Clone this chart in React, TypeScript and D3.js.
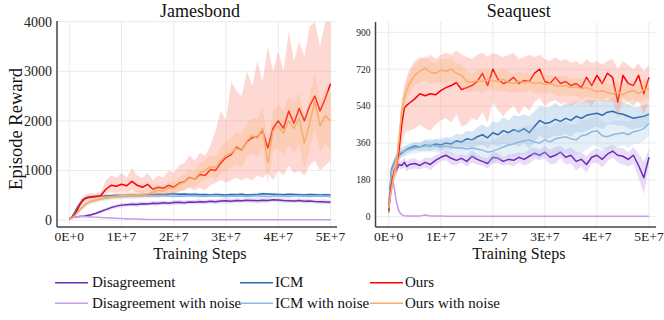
import React from 'react';
import * as d3 from 'd3';

// Training steps in units of 1E6
const STEPS = [0, 0.5, 1, 1.5, 2, 2.5, 3, 3.5, 4,
  5, 6, 7, 8, 9, 10, 11, 12, 13, 14,
  15, 16, 17, 18, 19, 20, 21, 22, 23, 24,
  25, 26, 27, 28, 29, 30, 31, 32, 33, 34,
  35, 36, 37, 38, 39, 40, 41, 42, 43, 44,
  45, 46, 47, 48, 49, 50];

const X_TICKS = [0, 10, 20, 30, 40, 50];
const X_TICK_LABELS = ['0E+0', '1E+7', '2E+7', '3E+7', '4E+7', '5E+7'];

const JB_Y_TICKS = [0, 1000, 2000, 3000, 4000];
const SQ_Y_TICKS = [0, 180, 360, 540, 720, 900];

const SERIES_NAMES = ['Disagreement', 'Disagreement with noise', 'ICM', 'ICM with noise', 'Ours', 'Ours with noise'];

// ---------------- Jamesbond ----------------
const jbDis = [40, 50, 60, 65, 70, 75, 80, 90, 100,
  130, 170, 210, 250, 280, 300, 310, 320, 315, 330,
  325, 340, 335, 350, 340, 355, 360, 350, 365, 360,
  370, 365, 380, 370, 385, 390, 380, 395, 390, 400,
  395, 390, 400, 395, 410, 405, 395, 390, 385, 395,
  380, 385, 375, 370, 365, 360];
const jbDisSpread = [5, 5, 10, 10, 15, 15, 20, 20, 20,
  25, 30, 35, 40, 40, 45, 40, 45, 50, 45,
  40, 45, 50, 45, 40, 45, 50, 45, 40, 45,
  50, 45, 40, 45, 50, 55, 50, 45, 40, 45,
  50, 55, 50, 45, 40, 45, 50, 45, 40, 45,
  50, 45, 40, 45, 50, 45];
const jbDisN = [40, 50, 60, 65, 70, 70, 68, 65, 62,
  58, 52, 45, 40, 35, 30, 26, 22, 18, 15,
  12, 10, 9, 8, 8, 7, 7, 6, 6, 6,
  5, 5, 5, 5, 5, 5, 5, 5, 5, 5,
  5, 5, 5, 5, 5, 5, 5, 5, 5, 5,
  5, 5, 5, 5, 5, 5];
const jbDisNSpread = [5, 8, 10, 12, 12, 12, 12, 12, 12,
  12, 12, 12, 10, 10, 10, 10, 8, 8, 8,
  8, 6, 6, 6, 6, 6, 5, 5, 5, 5,
  5, 5, 5, 5, 5, 5, 5, 5, 5, 5,
  5, 5, 5, 5, 5, 5, 5, 5, 5, 5,
  5, 5, 5, 5, 5, 5];
const jbICM = [20, 60, 150, 250, 330, 400, 440, 460, 470,
  480, 480, 490, 490, 500, 495, 500, 505, 510, 505,
  515, 510, 520, 515, 525, 530, 520, 525, 515, 520,
  510, 515, 505, 515, 510, 505, 515, 510, 520, 505,
  510, 515, 530, 525, 520, 515, 510, 520, 515, 510,
  505, 515, 510, 505, 510, 505];
const jbICMSpread = [5, 10, 20, 30, 30, 30, 30, 30, 30,
  30, 25, 30, 35, 30, 25, 30, 35, 30, 25,
  30, 35, 30, 25, 30, 35, 30, 25, 30, 35,
  30, 25, 30, 35, 30, 25, 30, 35, 30, 25,
  30, 35, 30, 25, 30, 35, 30, 25, 30, 35,
  30, 25, 30, 35, 30, 25];
const jbICMN = [20, 40, 90, 150, 200, 260, 310, 340, 370,
  400, 420, 440, 455, 465, 470, 475, 480, 480, 485,
  490, 485, 480, 490, 485, 480, 485, 478, 490, 485,
  480, 475, 482, 487, 480, 474, 480, 486, 481, 475,
  480, 486, 480, 474, 481, 487, 480, 475, 482, 486,
  480, 474, 480, 486, 481, 476];
const jbICMNSpread = [5, 10, 20, 25, 25, 25, 25, 25, 25,
  25, 20, 25, 30, 25, 20, 25, 30, 25, 20,
  25, 30, 25, 20, 25, 30, 25, 20, 25, 30,
  25, 20, 25, 30, 25, 20, 25, 30, 25, 20,
  25, 30, 25, 20, 25, 30, 25, 20, 25, 30,
  25, 20, 25, 30, 25, 20];
const jbOurs = [20, 40, 100, 200, 300, 380, 430, 450, 460,
  470, 490, 620, 700, 680, 720, 690, 780, 700, 660,
  720, 620, 660, 640, 700, 660, 740, 770, 860, 820,
  920, 900, 1020, 1000, 1150, 1260, 1320, 1470, 1410, 1580,
  1660, 1680, 1800, 1450, 1850, 2000, 1850, 2200, 1950, 2250,
  2000, 2300, 2500, 2200, 2450, 2750];
const jbOursLo = [10, 20, 60, 150, 230, 300, 350, 380, 400,
  420, 430, 520, 560, 550, 580, 560, 600, 560, 540,
  580, 520, 540, 520, 560, 540, 580, 600, 650, 600,
  650, 600, 700, 750, 800, 750, 800, 850, 800, 850,
  800, 900, 850, 950, 800, 1000, 900, 1100, 950, 1000,
  900, 1100, 1200, 1000, 1100, 1200];
const jbOursHi = [30, 60, 150, 260, 370, 460, 510, 530, 540,
  540, 560, 800, 900, 850, 950, 850, 1050, 900, 850,
  950, 800, 900, 850, 1000, 950, 1100, 1150, 1300, 1200,
  1350, 1300, 1500, 1800, 2200, 2000, 2800, 2600, 2500, 3000,
  2700, 3200, 2800, 3500, 3000, 3400, 3000, 3800, 3200, 3600,
  3300, 3900, 4000, 3500, 4000, 4000];
const jbOursN = [20, 40, 80, 140, 200, 250, 300, 340, 370,
  400, 430, 450, 470, 480, 490, 500, 500, 510, 520,
  530, 560, 600, 580, 650, 640, 720, 760, 850, 820,
  950, 1000, 1080, 1050, 1200, 1300, 1350, 1450, 1400, 1600,
  1700, 1650, 1850, 1150, 1800, 1900, 1750, 2000, 1850, 2050,
  1550, 1950, 2400, 1900, 2100, 2000];
const jbOursNSpread = [5, 10, 15, 25, 35, 40, 45, 50, 50,
  50, 55, 60, 60, 65, 70, 70, 75, 80, 85,
  90, 100, 110, 100, 120, 130, 140, 150, 170, 160,
  190, 200, 220, 240, 260, 280, 300, 320, 340, 330,
  360, 380, 400, 420, 400, 440, 460, 480, 500, 520,
  500, 540, 560, 520, 560, 580];

// ---------------- Seaquest ----------------
const sqDis = [null, null, 220, 230, 255, 250, 265, 245, 255,
  260, 250, 265, 255, 275, 290, 300, 285, 275, 285,
  270, 295, 280, 270, 260, 290, 285, 270, 280, 275,
  290, 280, 295, 310, 300, 315, 290, 300, 315, 290,
  300, 270, 280, 255, 290, 300, 280, 305, 320, 300,
  295, 280, 300, 250, 190, 290];
const sqDisSpread = [0, 0, 15, 20, 20, 20, 25, 25, 25,
  25, 20, 25, 30, 25, 20, 25, 30, 25, 20,
  25, 30, 25, 20, 25, 30, 25, 20, 25, 30,
  25, 30, 35, 30, 25, 30, 35, 40, 30, 35,
  40, 45, 35, 40, 30, 35, 40, 35, 30, 35,
  40, 35, 40, 60, 80, 40];
const sqDisN = [60, 200, 150, 70, 25, 10, 5, 4, 3,
  3, 4, 8, 4, 3, 3, 2, 2, 2, 2,
  2, 2, 2, 2, 2, 2, 2, 2, 2, 2,
  2, 2, 2, 2, 2, 2, 2, 2, 2, 2,
  2, 2, 2, 2, 2, 2, 2, 2, 2, 2,
  2, 2, 2, 2, 2, 2];
const sqDisNSpread = [10, 20, 30, 20, 10, 5, 3, 2, 2,
  2, 2, 3, 2, 2, 2, 2, 2, 2, 2,
  2, 2, 2, 2, 2, 2, 2, 2, 2, 2,
  2, 2, 2, 2, 2, 2, 2, 2, 2, 2,
  2, 2, 2, 2, 2, 2, 2, 2, 2, 2,
  2, 2, 2, 2, 2, 2];
const sqICM = [20, 230, 260, 290, 300, 310, 320, 330, 335,
  345, 340, 350, 345, 355, 350, 360, 355, 370, 365,
  380, 375, 390, 400, 385, 410, 400, 420, 410, 425,
  415, 430, 410, 440, 470, 455, 460, 475, 465, 480,
  470, 490, 480, 495, 500, 505, 495, 510, 515, 505,
  500, 490, 480, 485, 490, 500];
const sqICMSpread = [5, 20, 20, 20, 20, 20, 20, 20, 20,
  20, 20, 25, 25, 25, 30, 30, 30, 35, 35,
  40, 40, 45, 50, 50, 55, 60, 65, 60, 70,
  75, 70, 80, 75, 70, 80, 75, 80, 70, 75,
  80, 75, 70, 75, 70, 65, 70, 60, 65, 60,
  55, 60, 55, 50, 55, 50];
const sqICMN = [20, 220, 250, 290, 310, 315, 320, 325, 330,
  335, 340, 345, 350, 345, 340, 345, 340, 335, 335,
  330, 335, 330, 325, 315, 320, 330, 340, 350, 355,
  365, 370, 375, 365, 360, 375, 365, 380, 385, 390,
  380, 375, 395, 400, 415, 420, 395, 390, 400, 405,
  410, 400, 415, 420, 430, 455];
const sqICMNSpread = [5, 20, 25, 25, 25, 25, 25, 25, 25,
  25, 25, 30, 30, 30, 30, 35, 35, 35, 40,
  40, 45, 45, 50, 50, 55, 55, 60, 60, 65,
  65, 70, 70, 70, 75, 75, 70, 75, 80, 75,
  70, 75, 80, 75, 70, 75, 70, 65, 70, 65,
  60, 65, 60, 65, 60, 60];
const sqOurs = [30, 150, 220, 250, 330, 450, 530, 545, 555,
  575, 600, 590, 600, 595, 615, 630, 640, 655, 620,
  630, 640, 660, 700, 640, 720, 670, 650, 660, 680,
  650, 665, 660, 700, 720, 660, 650, 680, 650, 660,
  640, 650, 630, 680, 640, 690, 650, 700, 680, 560,
  690, 650, 640, 690, 600, 680];
const sqOursLo = [20, 100, 180, 200, 250, 350, 400, 420, 420,
  430, 450, 430, 420, 450, 470, 480, 460, 500, 440,
  450, 480, 470, 510, 460, 560, 520, 490, 520, 540,
  500, 540, 520, 560, 580, 540, 560, 570, 550, 560,
  540, 560, 550, 560, 540, 580, 560, 580, 570, 480,
  580, 560, 540, 570, 500, 560];
const sqOursHi = [40, 200, 260, 300, 420, 560, 640, 680, 720,
  760, 780, 770, 790, 770, 790, 800, 790, 810, 790,
  780, 770, 790, 800, 780, 800, 790, 780, 790, 800,
  770, 780, 790, 780, 790, 770, 760, 780, 760, 770,
  750, 760, 740, 770, 750, 760, 740, 760, 770, 720,
  760, 740, 720, 750, 710, 740];
const sqOursN = [40, 130, 200, 260, 380, 520, 580, 620, 650,
  690, 710, 725, 705, 700, 715, 710, 720, 700, 690,
  660, 655, 665, 660, 670, 665, 660, 670, 655, 650,
  660, 655, 660, 650, 655, 645, 650, 640, 635, 640,
  630, 635, 625, 630, 620, 610, 615, 605, 600, 610,
  595, 610, 615, 600, 620, 625];
const sqOursNSpread = [10, 30, 40, 40, 50, 50, 50, 50, 50,
  50, 55, 60, 55, 50, 55, 60, 55, 50, 55,
  50, 45, 50, 55, 50, 45, 50, 55, 50, 45,
  50, 45, 40, 45, 50, 45, 40, 45, 50, 45,
  40, 45, 50, 45, 40, 45, 50, 45, 40, 45,
  50, 45, 40, 45, 50, 45];

const COLORS = ['#6a2db6', '#c79ee9', '#2c6cb0', '#8db9de', '#ff0000', '#f6ad6e'];
const BAND_COLORS = ['#b48be0', '#d6b8f2', '#7eaad6', '#a9cbe8', '#fb8f7f', '#f7b27a'];
const BAND_OPACITY = [0.3, 0.3, 0.3, 0.3, 0.35, 0.3];

const FONT = '"Liberation Serif", "Times New Roman", serif';

type Band = { lo: (number | null)[]; hi: (number | null)[] };

function spreadBand(v: (number | null)[], s: number[]): Band {
  return {
    lo: v.map((d, i) => (d == null ? null : d - s[i])),
    hi: v.map((d, i) => (d == null ? null : d + s[i])),
  };
}

type PanelProps = {
  id: string;
  title: string;
  axisX: number;
  right: number;
  top: number;
  bottom: number;
  xRange: [number, number];
  yDomain: [number, number];
  yRange: [number, number];
  yTicks: number[];
  yTickFont: number;
  values: (number | null)[][];
  bands: Band[];
};

function Panel(p: PanelProps) {
  const x = d3.scaleLinear().domain([0, 50]).range(p.xRange);
  const y = d3.scaleLinear().domain(p.yDomain).range(p.yRange);
  const line = d3
    .line<number | null>()
    .defined((d) => d != null)
    .x((_, i) => x(STEPS[i]))
    .y((d) => y(d as number));
  const area = (b: Band) =>
    d3
      .area<number>()
      .defined((_, i) => b.lo[i] != null && b.hi[i] != null)
      .x((_, i) => x(STEPS[i]))
      .y0((_, i) => y(b.lo[i] as number))
      .y1((_, i) => y(b.hi[i] as number))(STEPS.map((_, i) => i)) || '';
  const cx = (p.xRange[0] + p.xRange[1]) / 2;
  return (
    <g>
      <defs>
        <clipPath id={p.id}>
          <rect x={p.axisX} y={p.top} width={p.right - p.axisX} height={p.bottom - p.top} />
        </clipPath>
      </defs>
      {X_TICKS.map((t) => (
        <line key={'gx' + t} x1={x(t)} x2={x(t)} y1={p.top} y2={p.bottom} stroke="#ebebeb" strokeWidth={1} />
      ))}
      {p.yTicks.map((t) => (
        <line key={'gy' + t} x1={p.axisX} x2={p.right} y1={y(t)} y2={y(t)} stroke="#ebebeb" strokeWidth={1} />
      ))}
      <g clipPath={`url(#${p.id})`}>
        {p.values.map((v, k) => (
          <g key={k}>
            <path d={area(p.bands[k])} fill={BAND_COLORS[k]} fillOpacity={BAND_OPACITY[k]} stroke="none" />
            <path d={line(v) || ''} fill="none" stroke={COLORS[k]} strokeWidth={1.5} strokeLinejoin="round" />
          </g>
        ))}
      </g>
      <line x1={p.axisX} x2={p.axisX} y1={p.top} y2={p.bottom} stroke="#444" strokeWidth={1.5} />
      <line x1={p.axisX} x2={p.right} y1={p.bottom} y2={p.bottom} stroke="#444" strokeWidth={1.5} />
      {p.yTicks.map((t) => (
        <text key={'ty' + t} x={p.axisX - 5} y={y(t)} dy="0.35em" textAnchor="end" fontSize={p.yTickFont} fontFamily={FONT} fill="#222">
          {t}
        </text>
      ))}
      {X_TICKS.map((t, i) => (
        <text key={'tx' + t} x={x(t)} y={241} textAnchor="middle" fontSize={13.5} fontFamily={FONT} fill="#222">
          {X_TICK_LABELS[i]}
        </text>
      ))}
      <text x={cx} y={17} textAnchor="middle" fontSize={18} fontFamily={FONT} fill="#111">
        {p.title}
      </text>
      <text x={cx} y={259} textAnchor="middle" fontSize={16} fontFamily={FONT} fill="#111">
        Training Steps
      </text>
    </g>
  );
}

export default function App() {
  const jbValues = [jbDis, jbDisN, jbICM, jbICMN, jbOurs, jbOursN];
  const jbBands = [
    spreadBand(jbDis, jbDisSpread),
    spreadBand(jbDisN, jbDisNSpread),
    spreadBand(jbICM, jbICMSpread),
    spreadBand(jbICMN, jbICMNSpread),
    { lo: jbOursLo, hi: jbOursHi },
    spreadBand(jbOursN, jbOursNSpread),
  ];
  const sqValues = [sqDis, sqDisN, sqICM, sqICMN, sqOurs, sqOursN];
  const sqBands = [
    spreadBand(sqDis, sqDisSpread),
    spreadBand(sqDisN, sqDisNSpread),
    spreadBand(sqICM, sqICMSpread),
    spreadBand(sqICMN, sqICMNSpread),
    { lo: sqOursLo, hi: sqOursHi },
    spreadBand(sqOursN, sqOursNSpread),
  ];
  const legendCols = [
    { lx: 55, tx: 92 },
    { lx: 240, tx: 275 },
    { lx: 370, tx: 405 },
  ];
  const legendItems = [
    { k: 0, col: 0, row: 0 },
    { k: 2, col: 1, row: 0 },
    { k: 4, col: 2, row: 0 },
    { k: 1, col: 0, row: 1 },
    { k: 3, col: 1, row: 1 },
    { k: 5, col: 2, row: 1 },
  ];
  const rowY = [282.7, 303.3];
  return (
    <svg width={664} height={320} style={{ position: 'absolute', left: 0, top: 0, background: '#fff' }}>
      <rect x={0} y={0} width={664} height={320} fill="#fff" />
      <Panel
        id="clipJB"
        title="Jamesbond"
        axisX={57}
        right={337}
        top={21}
        bottom={227}
        xRange={[69.3, 330.5]}
        yDomain={[0, 4000]}
        yRange={[220, 21.7]}
        yTicks={JB_Y_TICKS}
        yTickFont={14}
        values={jbValues}
        bands={jbBands}
      />
      <Panel
        id="clipSQ"
        title="Seaquest"
        axisX={375.5}
        right={656}
        top={22}
        bottom={227}
        xRange={[388.7, 649]}
        yDomain={[0, 900]}
        yRange={[216.7, 32.3]}
        yTicks={SQ_Y_TICKS}
        yTickFont={9.5}
        values={sqValues}
        bands={sqBands}
      />
      <text transform="translate(22,129) rotate(-90)" textAnchor="middle" fontSize={18.5} fontFamily={FONT} fill="#111">
        Episode Reward
      </text>
      {legendItems.map((it) => {
        const c = legendCols[it.col];
        const yy = rowY[it.row];
        return (
          <g key={it.k}>
            <line x1={c.lx} x2={c.lx + 33} y1={yy} y2={yy} stroke={COLORS[it.k]} strokeWidth={1.5} />
            <text x={c.tx} y={yy + 4.5} fontSize={15} fontFamily={FONT} fill="#111">
              {SERIES_NAMES[it.k]}
            </text>
          </g>
        );
      })}
    </svg>
  );
}
